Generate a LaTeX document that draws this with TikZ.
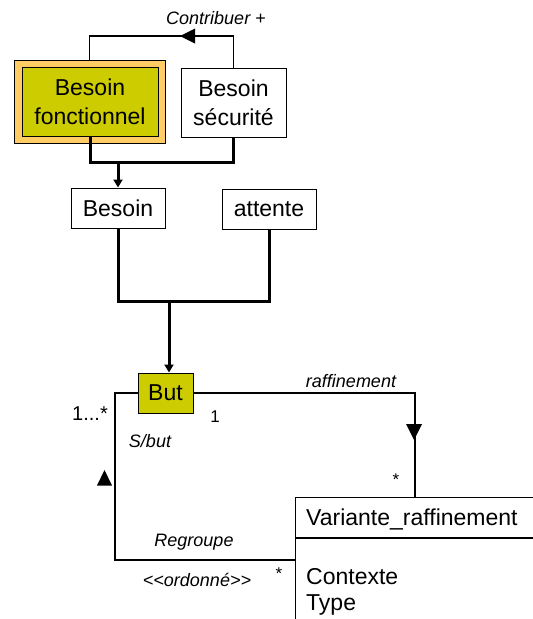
\documentclass[tikz,border=0pt]{standalone}
\usepackage{fontspec}
\setmainfont{Liberation Sans}
\usetikzlibrary{arrows.meta,calc}
\definecolor{olivefill}{HTML}{CCCC00}
\definecolor{apricot}{HTML}{FFCC66}
\begin{document}
\begin{tikzpicture}[x=1pt,y=-1pt,
  box/.style={draw=black,line width=1pt,inner sep=0pt,align=center,
              font=\fontsize{23}{29}\selectfont},
  lbl/.style={font=\fontsize{18}{20}\selectfont\itshape,inner sep=0pt},
  mult/.style={font=\fontsize{17}{20}\selectfont,inner sep=0pt},
  attr/.style={font=\fontsize{23}{27}\selectfont,inner sep=0pt,anchor=west},
  link/.style={line width=1.2pt},
  flow/.style={line width=3pt},
  flowarrow/.style={flow,-{Triangle[length=8pt,width=9pt]}},
  tri/.style={fill=black}
]
\useasboundingbox (0,0) rectangle (533,619);
\clip (0,0) rectangle (533,619);

% --- requirement boxes ---
\node[box,fill=apricot,minimum width=151pt,minimum height=83pt] (bfo) at (89.5,101.5) {};
\node[box,fill=olivefill,minimum width=136pt,minimum height=69pt] (bf) at (90,101.5) {Besoin\\fonctionnel};
\node[box,fill=white,minimum width=105pt,minimum height=69pt] (bs) at (233.5,102.5) {Besoin\\sécurité};
\node[box,fill=white,minimum width=94pt,minimum height=40pt] (besoin) at (118,208) {Besoin};
\node[box,fill=white,minimum width=94pt,minimum height=40pt] (attente) at (269,209) {attente};
\node[box,fill=olivefill,minimum width=55pt,minimum height=40pt] (but) at (165.5,393) {But};

% --- class Variante_raffinement ---
\node[draw=black,line width=1.2pt,inner sep=0pt,minimum width=280pt,minimum height=160pt,
      anchor=north west] (var) at (295,497) {};
\draw[link] ($(var.north west)+(0,41)$) coordinate (sepl) -- (sepl -| 560,0);
\node[attr] (vname) at (306,519) {Variante\_raffinement};
\node[attr] (ctx) at (306,577) {Contexte};
\node[attr] (typ) at (306,605) {Type};

% --- Contribuer + ---
\coordinate (ctop) at (0,36);
\draw[link] (bfo.north) -- (bfo.north |- ctop) -- (bs.north |- ctop) -- (bs.north);
\fill[tri] (180,36) -- (195,28.5) -- (195,43.5) -- cycle;
\node[lbl] (contrib) at (216,18) {Contribuer +};

% --- specialisation into Besoin ---
\coordinate (j1) at (0,162);
\draw[flow] (bf.south) -- (bf.south |- j1) -- (bs.south |- j1) -- (bs.south);
\draw[flowarrow] (besoin.north |- j1) -- (besoin.north);

% --- Besoin + attente into But ---
\coordinate (j2) at (0,301);
\coordinate (jb) at (169,301);
\draw[flow] (besoin.south) -- (besoin.south |- j2) -- (attente.south |- j2) -- (attente.south);
\draw[flowarrow] (jb) -- (jb |- but.north);

% --- raffinement ---
\coordinate (rc) at (415,393);
\draw[link] (but.east) -- (rc) -- (rc |- var.north);
\fill[tri] (414,440) -- (406,424) -- (422,424) -- cycle;
\node[lbl] (raff) at (351,381) {raffinement};
\node[mult] (m1) at (215,417) {1};
\node[mult] (m2) at (396,480) {*};

% --- Regroupe / S/but ---
\coordinate (gc) at (115,393);
\coordinate (gb) at (115,560);
\draw[link] (but.west) -- (gc) -- (gb) -- (gb -| var.west);
\fill[tri] (104.5,470) -- (97,485.5) -- (112,485.5) -- cycle;
\node[font=\fontsize{20}{22}\selectfont,inner sep=0pt] (m3) at (90,414) {1...*};
\node[lbl] (sbut) at (150,441) {S/but};
\node[lbl] (regr) at (194,542) {Regroupe};
\node[lbl] (ord) at (197,580) {<{}<ordonné>{}>};
\node[mult] (m4) at (279,574) {*};
\end{tikzpicture}
\end{document}
